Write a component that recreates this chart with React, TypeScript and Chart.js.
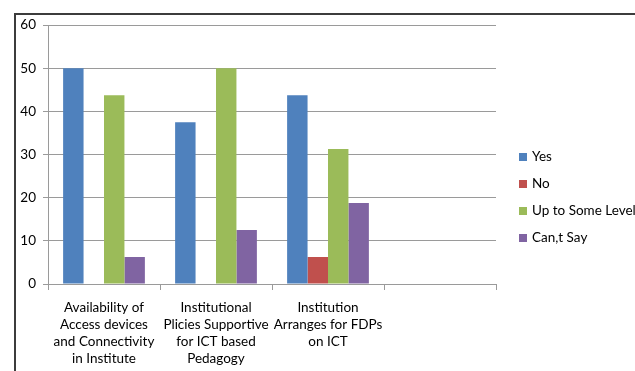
import React, { useEffect, useRef } from "react";
import { Chart, registerables } from "chart.js";

Chart.register(...registerables);

// Category labels (multi-line) along the x axis; the fourth slot is left empty
const categories: string[][] = [
  ["Availability of", "Access devices", "and Connectivity", "in Institute"],
  ["Institutional", "Plicies Supportive", "for ICT based", "Pedagogy"],
  ["Institution", "Arranges for FDPs", "on ICT"],
  [""],
];

const seriesNames = ["Yes", "No", "Up to Some Level", "Can,t Say"];
const seriesColors = ["#4F81BD", "#C0504D", "#9BBB59", "#8064A2"];

const yesValues = [50, 37.5, 43.75, null];
const noValues = [0, 0, 6.25, null];
const someLevelValues = [43.75, 50, 31.25, null];
const cantSayValues = [6.25, 12.5, 18.75, null];

const yTicks = [0, 10, 20, 30, 40, 50, 60];

const FONT_FAMILY = "Lato, 'Liberation Sans', sans-serif";
const FONT_SIZE = 13.5;
const GRID = "#9a9a9a";

// Outer chart frame: only the top and left edges fall inside the canvas
const framePlugin = {
  id: "frame",
  beforeDraw(chart: Chart) {
    const ctx = chart.ctx;
    ctx.save();
    ctx.strokeStyle = "#3c3c3c";
    ctx.lineWidth = 2;
    ctx.beginPath();
    ctx.moveTo(15, chart.height);
    ctx.lineTo(15, 14);
    ctx.lineTo(chart.width, 14);
    ctx.stroke();
    ctx.restore();
  },
};

// Legend drawn to the right of the plot area, one row per dataset
const sideLegendPlugin = {
  id: "sideLegend",
  afterDraw(chart: Chart) {
    const ctx = chart.ctx;
    const area = chart.chartArea;
    const x = area.right + 23;
    const y0 = area.top + 132;
    const rowGap = 27;
    ctx.save();
    ctx.font = `${FONT_SIZE}px ${FONT_FAMILY}`;
    ctx.textBaseline = "middle";
    ctx.textAlign = "left";
    chart.data.datasets.forEach((ds, i) => {
      const cy = y0 + i * rowGap;
      ctx.fillStyle = ds.backgroundColor as string;
      ctx.fillRect(x, cy - 4, 8, 8);
      ctx.fillStyle = "#000";
      ctx.fillText(ds.label as string, x + 13, cy);
    });
    ctx.restore();
  },
};

export default function App() {
  const canvasRef = useRef<HTMLCanvasElement | null>(null);

  useEffect(() => {
    if (!canvasRef.current) return;
    const seriesValues = [yesValues, noValues, someLevelValues, cantSayValues];
    const chart = new Chart(canvasRef.current, {
      type: "bar",
      data: {
        labels: categories,
        datasets: seriesValues.map((vals, i) => ({
          label: seriesNames[i],
          data: vals,
          backgroundColor: seriesColors[i],
          borderWidth: 0,
          categoryPercentage: 0.73,
          barPercentage: 1,
        })),
      },
      options: {
        animation: false,
        responsive: false,
        layout: { padding: { left: 15, right: 139, top: 25, bottom: 0 } },
        plugins: {
          legend: { display: false },
          tooltip: { enabled: false },
        },
        scales: {
          x: {
            grid: {
              display: true,
              drawOnChartArea: false,
              offset: true,
              tickLength: 6,
              color: GRID,
            },
            border: { color: GRID },
            ticks: {
              color: "#000",
              font: { family: FONT_FAMILY, size: FONT_SIZE, lineHeight: 1.26 },
              maxRotation: 0,
              autoSkip: false,
              padding: 9,
            },
            afterFit: (scale: any) => {
              scale.height = 87;
            },
          },
          y: {
            min: yTicks[0],
            max: yTicks[yTicks.length - 1],
            afterBuildTicks: (scale: any) => {
              scale.ticks = yTicks.map((v) => ({ value: v }));
            },
            grid: { color: GRID, tickLength: 5 },
            border: { color: GRID },
            ticks: {
              color: "#000",
              font: { family: FONT_FAMILY, size: FONT_SIZE },
              padding: 7,
            },
            afterFit: (scale: any) => {
              scale.width = 33;
            },
          },
        },
      },
      plugins: [framePlugin, sideLegendPlugin],
    });
    return () => chart.destroy();
  }, []);

  return (
    <div style={{ position: "absolute", left: 0, top: 0, width: 635, height: 371, background: "#fff" }}>
      <canvas ref={canvasRef} width={635} height={371} />
    </div>
  );
}
